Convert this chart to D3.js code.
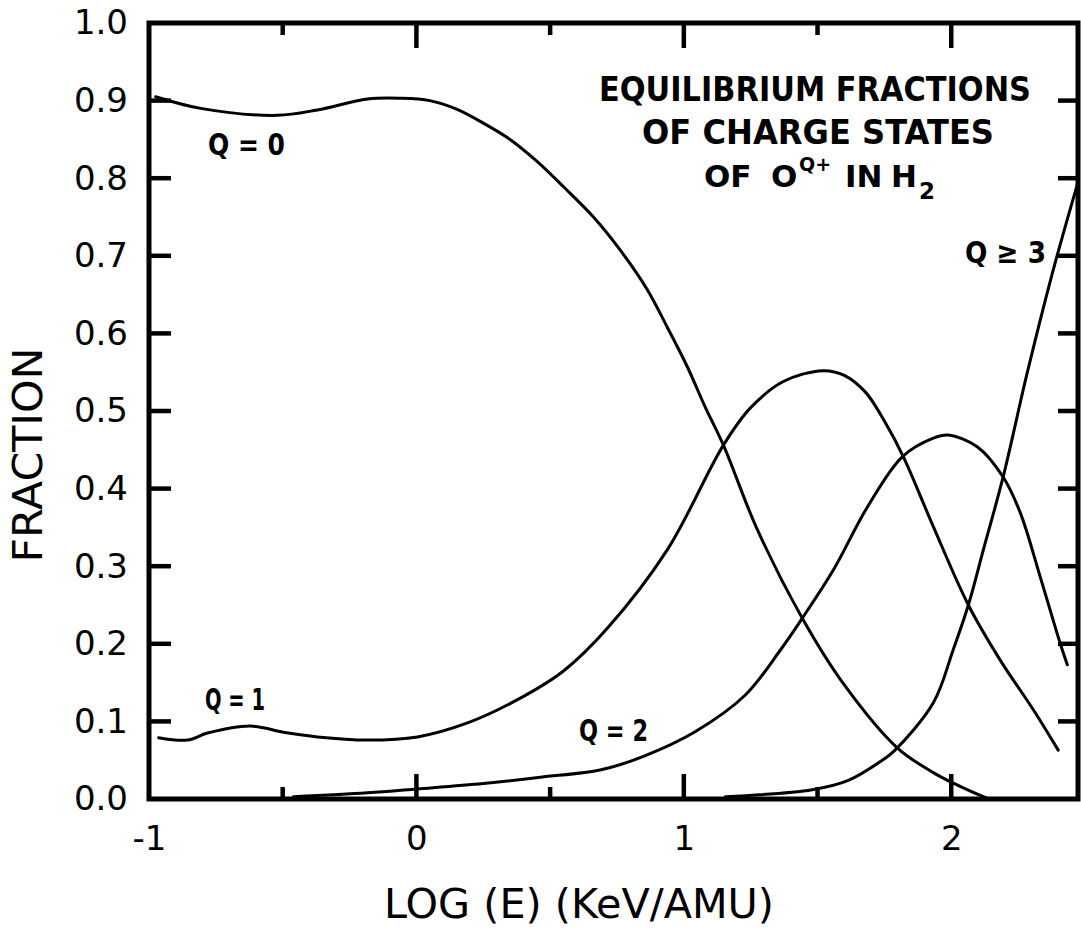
<!DOCTYPE html>
<html>
<head>
<meta charset="utf-8" />
<script src="https://cdn.jsdelivr.net/npm/d3@7"></script>
<style>
  body { margin: 0; background: #fff; }
  svg text { font-family: "DejaVu Sans", sans-serif; fill: #000; }
  .curve { fill: none; stroke: #000; stroke-width: 3; stroke-linejoin: round; stroke-linecap: round; }
  .domain { display: none; }
</style>
</head>
<body>
<svg id="chart" width="1081" height="929"></svg>
<script>
// log10(E) in keV/amu vs fraction
const q0Log  = [-0.975, -0.807, -0.52, -0.37, -0.183, -0.06, 0.05, 0.15, 0.25, 0.35, 0.45, 0.55, 0.662, 0.763, 0.864, 0.938, 1.013, 1.08, 1.148, 1.275, 1.443, 1.596, 1.798, 1.933, 2.004, 2.12, 2.146];
const q0Frac = [0.905, 0.890, 0.881, 0.888, 0.902, 0.903, 0.900, 0.889, 0.871, 0.850, 0.822, 0.789, 0.750, 0.707, 0.656, 0.608, 0.557, 0.505, 0.456, 0.347, 0.233, 0.149, 0.066, 0.034, 0.021, 0.003, 0.000];

const q1Log  = [-0.964, -0.856, -0.781, -0.621, -0.497, -0.37, -0.183, 0.004, 0.191, 0.378, 0.55, 0.714, 0.938, 1.148, 1.249, 1.372, 1.52, 1.6, 1.68, 1.75, 1.821, 1.933, 2.064, 2.183, 2.307, 2.400];
const q1Frac = [0.079, 0.076, 0.085, 0.094, 0.086, 0.080, 0.076, 0.080, 0.098, 0.128, 0.165, 0.220, 0.321, 0.456, 0.504, 0.538, 0.552, 0.546, 0.524, 0.487, 0.441, 0.351, 0.250, 0.179, 0.115, 0.063];

const q2Log  = [-0.46, -0.183, 0.004, 0.25, 0.464, 0.695, 0.849, 1.039, 1.23, 1.361, 1.443, 1.559, 1.686, 1.817, 1.933, 1.989, 2.097, 2.194, 2.258, 2.333, 2.407, 2.434];
const q2Frac = [0.003, 0.008, 0.013, 0.020, 0.028, 0.038, 0.055, 0.086, 0.134, 0.192, 0.233, 0.295, 0.376, 0.441, 0.465, 0.469, 0.454, 0.415, 0.369, 0.286, 0.201, 0.173];

const q3Log  = [1.155, 1.48, 1.615, 1.742, 1.787, 1.933, 2.007, 2.064, 2.12, 2.194, 2.284, 2.38, 2.474];
const q3Frac = [0.003, 0.012, 0.024, 0.050, 0.062, 0.124, 0.192, 0.250, 0.321, 0.415, 0.549, 0.680, 0.795];

const xMajor = [-1, 0, 1, 2];
const xMinor = [-0.5, 0.5, 1.5];
const xTickLabels = ["-1", "0", "1", "2"];
const yTicks = [0, 0.1, 0.2, 0.3, 0.4, 0.5, 0.6, 0.7, 0.8, 0.9, 1.0];
const yTicksInner = [0.1, 0.2, 0.3, 0.4, 0.5, 0.6, 0.7, 0.8, 0.9];

const pLeft = 149, pRight = 1078, pTop = 23, pBottom = 799;
const svg = d3.select("#chart");

const x = d3.scaleLinear().domain([-1, 2.474]).range([pLeft, pRight]);
const y = d3.scaleLinear().domain([0, 1]).range([pBottom, pTop]);

// tick labels from d3 axes (tick lines drawn separately below)
svg.append("g").attr("transform", `translate(0,${pBottom})`)
  .call(d3.axisBottom(x).tickValues(xMajor).tickFormat((d, i) => xTickLabels[i])
    .tickSize(0).tickPadding(27))
  .call(g => g.selectAll(".tick line").remove())
  .selectAll("text").attr("font-size", 34);

svg.append("g").attr("transform", `translate(${pLeft},0)`)
  .call(d3.axisLeft(y).tickValues(yTicks).tickFormat(d3.format(".1f"))
    .tickSize(0).tickPadding(21))
  .call(g => g.selectAll(".tick line").remove())
  .selectAll("text").attr("font-size", 34);

svg.selectAll(".tick text").attr("fill", "#000");

// inward tick marks on all four sides
const ticks = svg.append("g").attr("stroke", "#000").attr("stroke-width", 4.5);
const xTickSet = [
  ...xMajor.filter(d => d > -1).map(v => ({ v, len: 25 })),
  ...xMinor.map(v => ({ v, len: 12 }))
];
ticks.selectAll(".xb").data(xTickSet).join("line").attr("class", "xb")
  .attr("x1", d => x(d.v)).attr("x2", d => x(d.v))
  .attr("y1", pBottom).attr("y2", d => pBottom - d.len);
ticks.selectAll(".xt").data(xTickSet).join("line").attr("class", "xt")
  .attr("x1", d => x(d.v)).attr("x2", d => x(d.v))
  .attr("y1", pTop).attr("y2", d => pTop + d.len);
ticks.selectAll(".yl").data(yTicksInner).join("line").attr("class", "yl")
  .attr("x1", pLeft).attr("x2", pLeft + 22)
  .attr("y1", d => y(d)).attr("y2", d => y(d));
ticks.selectAll(".yr").data(yTicksInner).join("line").attr("class", "yr")
  .attr("x1", pRight).attr("x2", pRight - 20)
  .attr("y1", d => y(d)).attr("y2", d => y(d));

// frame
svg.append("rect")
  .attr("x", pLeft).attr("y", pTop)
  .attr("width", pRight - pLeft).attr("height", pBottom - pTop)
  .attr("fill", "none").attr("stroke", "#000").attr("stroke-width", 5);

// curves
const line = d3.line().x(d => x(d[0])).y(d => y(d[1])).curve(d3.curveCatmullRom.alpha(0.5));
const series = [
  [q0Log, q0Frac],
  [q1Log, q1Frac],
  [q2Log, q2Frac],
  [q3Log, q3Frac]
];
series.forEach(([xs, ys]) => {
  svg.append("path").attr("class", "curve").attr("d", line(d3.zip(xs, ys)));
});

// curve labels
const labels = [
  { t: "Q = 0", x: 208, y: 155, w: 77 },
  { t: "Q = 1", x: 205, y: 710, w: 60 },
  { t: "Q = 2", x: 579, y: 741, w: 69 },
  { t: "Q \u2265 3", x: 965, y: 263, w: 81 }
];
svg.selectAll(".qlab").data(labels).join("text")
  .attr("class", "qlab")
  .attr("x", d => d.x).attr("y", d => d.y)
  .attr("font-size", 31).attr("font-weight", "bold")
  .attr("textLength", d => d.w).attr("lengthAdjust", "spacingAndGlyphs")
  .text(d => d.t);

// title block
svg.append("text").attr("x", 815).attr("y", 101).attr("text-anchor", "middle")
  .attr("font-size", 33).attr("font-weight", "bold")
  .attr("textLength", 432).attr("lengthAdjust", "spacingAndGlyphs")
  .text("EQUILIBRIUM  FRACTIONS");
svg.append("text").attr("x", 818).attr("y", 144).attr("text-anchor", "middle")
  .attr("font-size", 33).attr("font-weight", "bold")
  .attr("textLength", 352).attr("lengthAdjust", "spacingAndGlyphs")
  .text("OF  CHARGE  STATES");
// third line pieces: OF O^{Q+} IN H_2
const line3 = [
  { t: "OF", x: 704, y: 187, s: 31 },
  { t: "O", x: 771, y: 187, s: 31 },
  { t: "Q+", x: 799, y: 171, s: 19 },
  { t: "IN", x: 845, y: 187, s: 31 },
  { t: "H", x: 891, y: 187, s: 31 },
  { t: "2", x: 919, y: 199, s: 23 }
];
svg.selectAll(".l3").data(line3).join("text").attr("class", "l3")
  .attr("x", d => d.x).attr("y", d => d.y)
  .attr("font-size", d => d.s).attr("font-weight", "bold")
  .text(d => d.t);

// axis titles
svg.append("text").attr("x", 579).attr("y", 918).attr("text-anchor", "middle")
  .attr("font-size", 40).attr("textLength", 390).attr("lengthAdjust", "spacingAndGlyphs")
  .text("LOG (E) (KeV/AMU)");
svg.append("text").attr("transform", "translate(42,455) rotate(-90)")
  .attr("text-anchor", "middle").attr("font-size", 40)
  .attr("textLength", 215).attr("lengthAdjust", "spacingAndGlyphs")
  .text("FRACTION");
</script>
</body>
</html>
